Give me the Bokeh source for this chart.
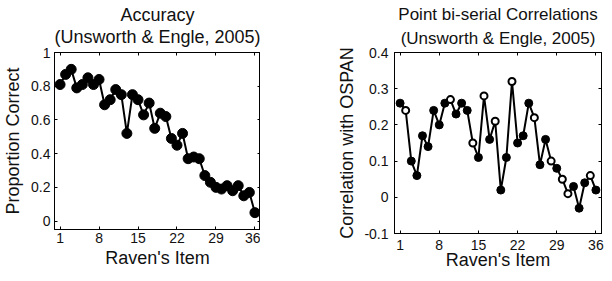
from bokeh.plotting import figure
from bokeh.layouts import row
from bokeh.models import LinearAxis, FixedTicker, Range1d, Title, Spacer
from bokeh.embed import file_html
from bokeh.resources import INLINE

items = list(range(1, 37))
accuracy = [0.81, 0.87, 0.90, 0.79, 0.81, 0.85, 0.81, 0.84, 0.69, 0.72,
            0.78, 0.75, 0.52, 0.75, 0.72, 0.63, 0.70, 0.55, 0.64, 0.62,
            0.49, 0.45, 0.52, 0.37, 0.38, 0.37, 0.27, 0.23, 0.20, 0.19,
            0.21, 0.18, 0.21, 0.15, 0.17, 0.05]
correlation = [0.26, 0.24, 0.10, 0.06, 0.17, 0.14, 0.24, 0.20, 0.26, 0.27,
               0.23, 0.26, 0.24, 0.15, 0.11, 0.28, 0.16, 0.21, 0.02, 0.11,
               0.32, 0.15, 0.17, 0.26, 0.22, 0.09, 0.16, 0.10, 0.08, 0.05,
               0.01, 0.03, -0.03, 0.04, 0.06, 0.02]
# True = open (hollow) marker
open_marker = [False, True, False, False, False, False, False, False, False, True,
               False, False, False, True, False, True, False, True, False, False,
               True, False, False, False, True, False, False, True, False, True,
               True, False, False, False, True, False]
x_ticks = [1, 8, 15, 22, 29, 36]
acc_ticks = [0, 0.2, 0.4, 0.6, 0.8, 1]
acc_labels = {0: "0", 0.2: "0.2", 0.4: "0.4", 0.6: "0.6", 0.8: "0.8", 1: "1"}
cor_ticks = [-0.1, 0, 0.1, 0.2, 0.3, 0.4]
cor_labels = {-0.1: "-0.1", 0: "0", 0.1: "0.1", 0.2: "0.2", 0.3: "0.3", 0.4: "0.4"}

FONT = "Liberation Sans"
TICK_FS = "14px"
LAB_FS = "18px"
INK = "#111111"


def style(p, yticks, ylabels, xlabel, ylabel, title1, title2, title_fs,
          title_standoff, sub_standoff,
          x_tick_standoff, x_lab_standoff, y_tick_standoff, y_lab_standoff):
    p.outline_line_color = "black"
    p.outline_line_width = 1
    p.xgrid.visible = False
    p.ygrid.visible = False
    for ax in p.xaxis:
        ax.ticker = FixedTicker(ticks=x_ticks)
        ax.axis_label = xlabel
        ax.axis_label_standoff = x_lab_standoff
        ax.major_label_standoff = x_tick_standoff
    for ax in p.yaxis:
        ax.ticker = FixedTicker(ticks=yticks)
        ax.major_label_overrides = ylabels
        ax.axis_label = ylabel
        ax.axis_label_standoff = y_lab_standoff
        ax.major_label_standoff = y_tick_standoff
    for ax in p.axis:
        ax.major_tick_in = 3
        ax.major_tick_out = 0
        ax.minor_tick_line_color = None
        ax.axis_line_color = "black"
        ax.major_tick_line_color = "black"
        ax.major_label_text_font = FONT
        ax.major_label_text_font_size = TICK_FS
        ax.major_label_text_color = INK
        ax.axis_label_text_font = FONT
        ax.axis_label_text_font_size = LAB_FS
        ax.axis_label_text_font_style = "normal"
        ax.axis_label_text_color = INK
    # box ticks on top and right (MATLAB style), without tick labels;
    # the top axis carries the second title line as its label
    top = LinearAxis(ticker=FixedTicker(ticks=x_ticks), major_tick_in=3, major_tick_out=0,
                     minor_tick_line_color=None, major_label_standoff=0,
                     major_label_overrides={t: "" for t in x_ticks},
                     major_label_text_font_size="1px", axis_line_color="black",
                     axis_label=title2, axis_label_standoff=sub_standoff,
                     axis_label_text_font=FONT, axis_label_text_font_size=title_fs,
                     axis_label_text_font_style="normal", axis_label_text_color=INK)
    right = LinearAxis(ticker=FixedTicker(ticks=yticks), major_tick_in=3, major_tick_out=0,
                       minor_tick_line_color=None, major_label_standoff=0,
                       major_label_overrides={t: "" for t in yticks},
                       major_label_text_font_size="1px", axis_line_color="black")
    p.add_layout(top, "above")
    p.add_layout(right, "right")
    t = Title(text=title1, align="center", text_font=FONT, text_font_size=title_fs,
              text_font_style="normal", text_color=INK, standoff=title_standoff, offset=0)
    p.add_layout(t, "above")


p1 = figure(frame_width=206, frame_height=177, output_backend="svg", toolbar_location=None,
            x_range=Range1d(0, 37), y_range=Range1d(-0.05, 1), title=None,
            min_border=0)
p1.line(items, accuracy, line_color="black", line_width=2)
p1.scatter(items, accuracy, size=10, fill_color="black", line_color="black")
style(p1, acc_ticks, acc_labels, "Raven's Item", "Proportion Correct",
      "Accuracy", "(Unsworth & Engle, 2005)", "18px", -3, 6, 3, 2, 4, 5)

p2 = figure(frame_width=207, frame_height=181, output_backend="svg", toolbar_location=None,
            x_range=Range1d(0, 37), y_range=Range1d(-0.1, 0.4), title=None,
            min_border=0, min_border_right=7)
p2.line(items, correlation, line_color="black", line_width=2)
fx = [x for x, o in zip(items, open_marker) if not o]
fy = [y for y, o in zip(correlation, open_marker) if not o]
ox = [x for x, o in zip(items, open_marker) if o]
oy = [y for y, o in zip(correlation, open_marker) if o]
p2.scatter(fx, fy, size=8, fill_color="black", line_color="black")
p2.scatter(ox, oy, size=7, fill_color="white", line_color="black", line_width=2)
style(p2, cor_ticks, cor_labels, "Raven's Item", "Correlation with OSPAN",
      "Point bi-serial Correlations", "(Unsworth & Engle, 2005)", "17px", 4, 5, 6, -3, 6, 4)

layout = row(p1, Spacer(width=74), p2)
open("out.html", "w").write(file_html(layout, INLINE))
